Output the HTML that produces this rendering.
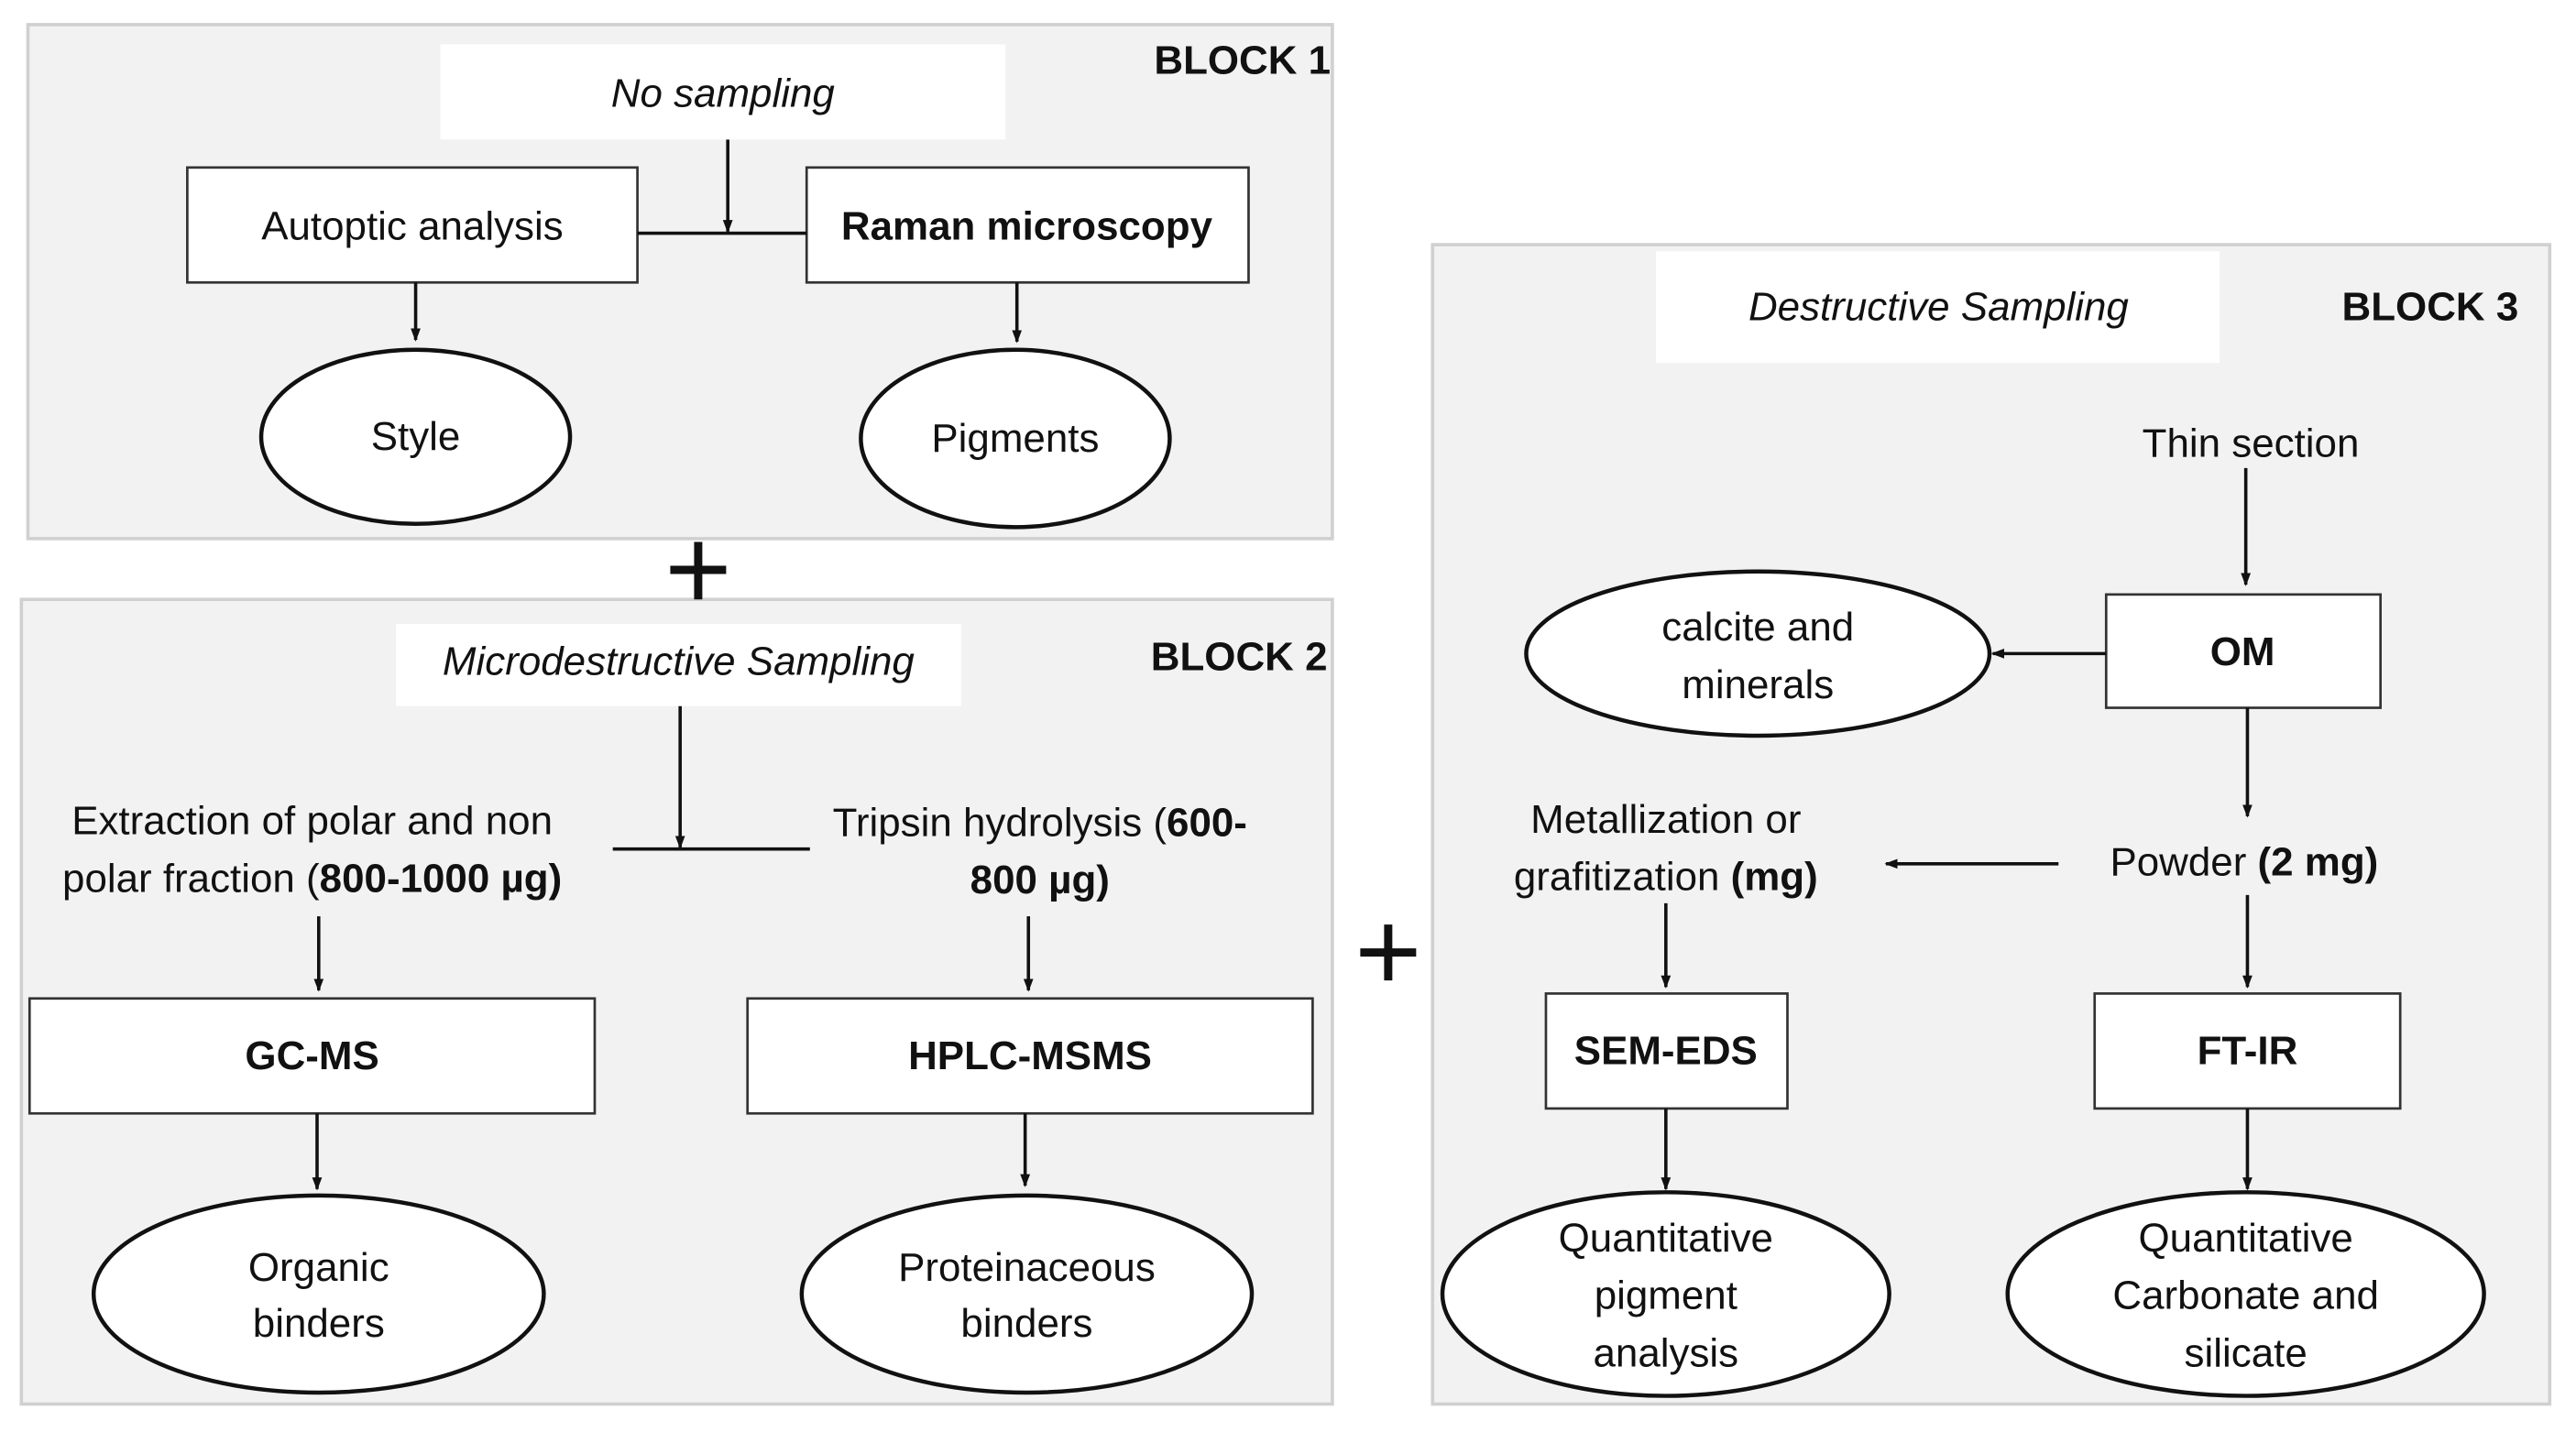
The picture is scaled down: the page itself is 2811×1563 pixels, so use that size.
<!DOCTYPE html>
<html><head><meta charset="utf-8"><style>
html,body{margin:0;padding:0;background:#fff;}
svg{display:block;}
text{font-family:"Liberation Sans",sans-serif;font-size:24.5px;fill:#111;}
.b{font-weight:bold;}
.i{font-style:italic;}
</style></head><body>
<svg width="2811" height="1563" viewBox="0 0 1568 872" preserveAspectRatio="none" xmlns="http://www.w3.org/2000/svg">
<defs><marker id="a" markerWidth="8" markerHeight="8" refX="7" refY="4" orient="auto" markerUnits="userSpaceOnUse"><path d="M0,1 L8,4 L0,7 z" fill="#111"/></marker></defs>
<g stroke="#d0d0d0" stroke-width="2" fill="#f2f2f2">
<rect x="17" y="15" width="794" height="313"/>
<rect x="13" y="365" width="798" height="490"/>
<rect x="872" y="149" width="680" height="706"/>
</g>
<g fill="#fff" stroke="none">
<rect x="268" y="27" width="344" height="58"/>
<rect x="241" y="380" width="344" height="50"/>
<rect x="1008" y="153" width="343" height="68"/>
</g>
<g fill="#fff" stroke="#333" stroke-width="1.5">
<rect x="114" y="102" width="274" height="70"/>
<rect x="491" y="102" width="269" height="70"/>
<rect x="18" y="608" width="344" height="70"/>
<rect x="455" y="608" width="344" height="70"/>
<rect x="1282" y="362" width="167" height="69"/>
<rect x="941" y="605" width="147" height="70"/>
<rect x="1275" y="605" width="186" height="70"/>
</g>
<g fill="#fff" stroke="#111" stroke-width="2.5">
<ellipse cx="253" cy="266" rx="94" ry="53"/>
<ellipse cx="618" cy="267" rx="94" ry="54"/>
<ellipse cx="194" cy="788" rx="137" ry="60"/>
<ellipse cx="625" cy="788" rx="137" ry="60"/>
<ellipse cx="1070" cy="398" rx="141" ry="50"/>
<ellipse cx="1014" cy="788" rx="136" ry="62"/>
<ellipse cx="1367" cy="788" rx="145" ry="62"/>
</g>
<g stroke="#111" stroke-width="2" fill="none">
<line x1="388" y1="142" x2="491" y2="142"/>
<line x1="443" y1="85" x2="443" y2="141" marker-end="url(#a)"/>
<line x1="253" y1="172" x2="253" y2="207" marker-end="url(#a)"/>
<line x1="619" y1="172" x2="619" y2="208" marker-end="url(#a)"/>
<line x1="373" y1="517" x2="493" y2="517"/>
<line x1="414" y1="430" x2="414" y2="516" marker-end="url(#a)"/>
<line x1="194" y1="558" x2="194" y2="603" marker-end="url(#a)"/>
<line x1="626" y1="558" x2="626" y2="603" marker-end="url(#a)"/>
<line x1="193" y1="678" x2="193" y2="724" marker-end="url(#a)"/>
<line x1="624" y1="678" x2="624" y2="722" marker-end="url(#a)"/>
<line x1="1367" y1="285" x2="1367" y2="356" marker-end="url(#a)"/>
<line x1="1282" y1="398" x2="1213" y2="398" marker-end="url(#a)"/>
<line x1="1368" y1="431" x2="1368" y2="497" marker-end="url(#a)"/>
<line x1="1253" y1="526" x2="1148" y2="526" marker-end="url(#a)"/>
<line x1="1014" y1="550" x2="1014" y2="601" marker-end="url(#a)"/>
<line x1="1368" y1="545" x2="1368" y2="601" marker-end="url(#a)"/>
<line x1="1014" y1="675" x2="1014" y2="724" marker-end="url(#a)"/>
<line x1="1368" y1="675" x2="1368" y2="724" marker-end="url(#a)"/>
</g>
<g stroke="#111" stroke-width="5">
<line x1="425" y1="330" x2="425" y2="365"/><line x1="408" y1="347" x2="442" y2="347"/>
<line x1="845" y1="563" x2="845" y2="597"/><line x1="828" y1="580" x2="862" y2="580"/>
</g>
<g text-anchor="middle">
<text x="440" y="65" class="i">No sampling</text>
<text x="251" y="146">Autoptic analysis</text>
<text x="625" y="146" class="b">Raman microscopy</text>
<text x="253" y="274">Style</text>
<text x="618" y="275">Pigments</text>
<text x="413" y="411" class="i">Microdestructive Sampling</text>
<text x="190" y="508">Extraction of polar and non</text>
<text x="190" y="543">polar fraction (<tspan class="b">800-1000 µg)</tspan></text>
<text x="633" y="509">Tripsin hydrolysis (<tspan class="b">600-</tspan></text>
<text x="633" y="544" class="b">800 µg)</text>
<text x="190" y="651" class="b">GC-MS</text>
<text x="627" y="651" class="b">HPLC-MSMS</text>
<text x="194" y="780">Organic</text>
<text x="194" y="814">binders</text>
<text x="625" y="780">Proteinaceous</text>
<text x="625" y="814">binders</text>
<text x="1180" y="195" class="i">Destructive Sampling</text>
<text x="1370" y="278">Thin section</text>
<text x="1365" y="405" class="b">OM</text>
<text x="1070" y="390">calcite and</text>
<text x="1070" y="425">minerals</text>
<text x="1014" y="507">Metallization or</text>
<text x="1014" y="542">grafitization <tspan class="b">(mg)</tspan></text>
<text x="1366" y="533">Powder <tspan class="b">(2 mg)</tspan></text>
<text x="1014" y="648" class="b">SEM-EDS</text>
<text x="1368" y="648" class="b">FT-IR</text>
<text x="1014" y="762">Quantitative</text>
<text x="1014" y="797">pigment</text>
<text x="1014" y="832">analysis</text>
<text x="1367" y="762">Quantitative</text>
<text x="1367" y="797">Carbonate and</text>
<text x="1367" y="832">silicate</text>
</g>
<g text-anchor="end">
<text x="810" y="45" class="b">BLOCK 1</text>
<text x="808" y="408" class="b">BLOCK 2</text>
<text x="1533" y="195" class="b">BLOCK 3</text>
</g>
</svg>
</body></html>
